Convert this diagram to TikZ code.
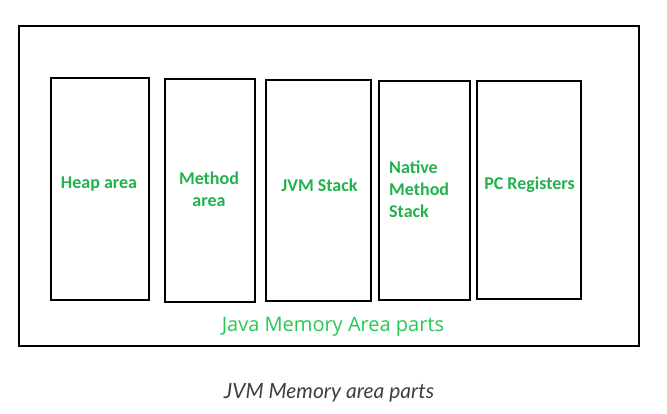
\documentclass[tikz,border=0pt]{standalone}
\usepackage{fontspec}
\setmainfont{Carlito}
\newfontfamily\areafont{Open Sans}
\newfontfamily\capfont{Lato}
\usepackage{tikz}
\definecolor{partgreen}{HTML}{22B14C}
\definecolor{titlegreen}{HTML}{26C852}
\definecolor{capgray}{HTML}{3A3F44}
\tikzset{
        part/.style={draw=black, line width=2.8pt, inner sep=0pt, fill=white},
        partlabel/.style={text=partgreen, font=\fontsize{18}{22}\selectfont\bfseries, inner sep=0pt, align=center}
}
\begin{document}
\begin{tikzpicture}[x=1pt, y=-1pt]
        \useasboundingbox (0,0) rectangle (667,413);
        \node (jma) [draw=black, line width=1.8pt, minimum width=620pt, minimum height=320pt, inner sep=0pt] at (329, 186) {};
        \node (heap) [part, minimum width=98pt, minimum height=222pt] at (100, 189) {};
        \node (method) [part, minimum width=90pt, minimum height=223pt] at (210, 190.5) {};
        \node (jvms) [part, minimum width=105pt, minimum height=221pt] at (318.5, 190.5) {};
        \node (native) [part, minimum width=91pt, minimum height=219pt] at (424.5, 190.5) {};
        \node (pcreg) [part, minimum width=104pt, minimum height=218pt] at (529, 190) {};
        \node (t0) [partlabel] at (99, 184) {Heap area};
        \node (t1) [partlabel] at (209, 189) {Method\\ area};
        \node (t2) [partlabel] at (319.5, 185) {JVM Stack};
        \node (t3) [partlabel, align=left, anchor=west] at (389, 189) {Native\\Method\\Stack};
        \node (t4) [partlabel] at (529.5, 185) {PC Registers};
        \node (jmatitle) [text=titlegreen, font=\areafont\fontsize{20}{24}\selectfont, inner sep=0pt] at (333, 326.5) {Java Memory Area parts};
        \node (caption) [text=capgray, font=\capfont\itshape\fontsize{21}{24}\selectfont, inner sep=0pt] at (329, 393) {JVM Memory area parts};
\end{tikzpicture}
\end{document}
